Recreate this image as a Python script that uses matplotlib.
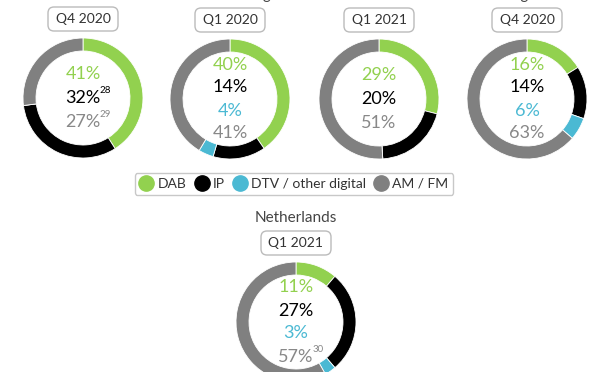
import matplotlib.pyplot as plt
from matplotlib.patches import FancyBboxPatch
from matplotlib.lines import Line2D

plt.rcParams['font.family'] = ['Lato', 'DejaVu Sans']

# data
countries = ["UK", "Luxembourg", "Denmark", "Belgium", "Netherlands"]
periods = ["Q4 2020", "Q1 2020", "Q1 2021", "Q4 2020", "Q1 2021"]
categories = ["DAB", "IP", "DTV / other digital", "AM / FM"]
dab = [41, 40, 29, 16, 11]
ip = [32, 14, 20, 14, 27]
dtv = [0, 4, 0, 6, 3]
amfm = [27, 41, 51, 63, 57]
notes_ip = ["28", "", "", "", ""]
notes_amfm = ["29", "", "", "", "30"]

colors = ["#92d14f", "#000000", "#4bb9d3", "#808080"]
text_colors = ["#92d14f", "#000000", "#4bb9d3", "#888888"]

W, H = 600, 372
fig = plt.figure(figsize=(6, 3.72), dpi=100)
ax = fig.add_axes([0, 0, 1, 1])

# pixel positions (x, y from top)
centers = [(83, 98), (230, 99), (379, 99), (527, 99), (296, 322)]
radius = 60

for i, (cx, cy) in enumerate(centers):
    vals = [dab[i], ip[i], dtv[i], amfm[i]]
    ax.pie(vals, colors=colors, startangle=90, counterclock=False,
           radius=radius, center=(cx, H - cy), frame=True,
           wedgeprops=dict(width=13, edgecolor="white", linewidth=0.6))

    # title (top row is mostly cut by the figure edge, as in the source)
    ax.text(cx, H - (cy - 104), countries[i], ha="center", va="center",
            fontsize=11, color="#444444")
    # period box
    by = cy - 79
    box = FancyBboxPatch((cx - 33, H - by - 10), 66, 20,
                         boxstyle="round,pad=2,rounding_size=6",
                         fc="white", ec="#bbbbbb", lw=1)
    ax.add_patch(box)
    ax.text(cx, H - by, periods[i], ha="center", va="center",
            fontsize=10, color="#333333")

    # labels inside donut
    lines = [(dab[i], 0, ""), (ip[i], 1, notes_ip[i])]
    if dtv[i]:
        lines.append((dtv[i], 2, ""))
    lines.append((amfm[i], 3, notes_amfm[i]))
    step = 23 if len(lines) == 4 else 24
    y0 = cy - step * (len(lines) - 1) / 2
    for k, (v, c, note) in enumerate(lines):
        yy = H - (y0 + k * step)
        ax.text(cx, yy, f"{v}%", ha="center", va="center",
                fontsize=13, color=text_colors[c])
        if note:
            ax.text(cx + 17, yy + 3, note, ha="left", va="bottom",
                    fontsize=7, color=text_colors[c])

# legend
handles = [Line2D([], [], marker="o", ls="", ms=11, mfc=c, mec=c)
           for c in colors]
leg = ax.legend(handles, categories, loc="center", ncol=4,
                bbox_to_anchor=(294, H - 184), bbox_transform=ax.transData,
                frameon=True, fontsize=10, handletextpad=0.3,
                columnspacing=0.6, borderpad=0.35, handlelength=1.0)
leg.get_frame().set_edgecolor("#bbbbbb")
leg.get_frame().set_linewidth(1)
for t in leg.get_texts():
    t.set_color("#333333")

ax.set_xlim(0, W)
ax.set_ylim(0, H)
ax.set_aspect("auto")
ax.axis("off")

fig.savefig("out.png", dpi=100)
